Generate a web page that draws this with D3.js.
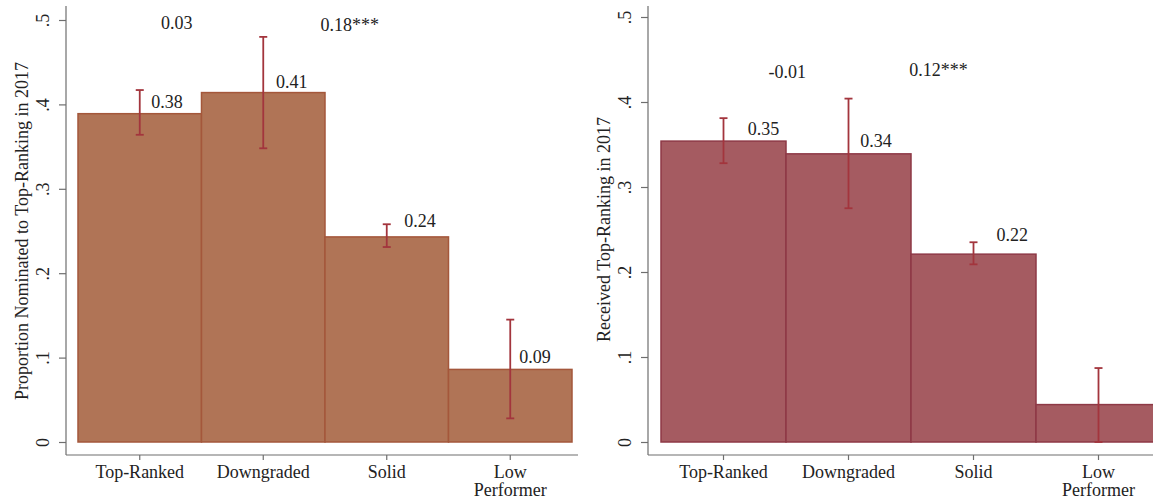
<!DOCTYPE html>
<html lang="en">
<head>
    <meta charset="UTF-8">
    <title>Top-Ranking in 2017</title>
    <script src="https://d3js.org/d3.v7.min.js"></script>
    <style>
        body { margin: 0; background: #fff; }
        .axis-line { stroke: #6e6e6e; stroke-width: 1.2; }
    </style>
</head>
<body>
    <svg width="1153" height="504"></svg>

    <script>
        // Categories along the x axis
        const categories = ["Top-Ranked", "Downgraded", "Solid", "Low Performer"];
        const yTicks = [0, 0.1, 0.2, 0.3, 0.4, 0.5];

        // Left panel: proportion nominated (mean and 95% CI)
        const nominatedMean = [0.389, 0.414, 0.243, 0.086];
        const nominatedLow = [0.364, 0.348, 0.231, 0.028];
        const nominatedHigh = [0.417, 0.480, 0.258, 0.145];
        const nominatedLabels = ["0.38", "0.41", "0.24", "0.09"];
        const nominatedDiffs = ["0.03", "0.18***"];

        // Right panel: received top-ranking
        const receivedMean = [0.354, 0.339, 0.221, 0.044];
        const receivedLow = [0.328, 0.275, 0.209, 0.0];
        const receivedHigh = [0.381, 0.404, 0.235, 0.087];
        const receivedLabels = ["0.35", "0.34", "0.22"];
        const receivedDiffs = ["-0.01", "0.12***"];

        const svg = d3.select("svg");
        const serif = "'Liberation Serif', 'DejaVu Serif', serif";

        // text placements in data units (x: category position 0..4, y: value)
        const panels = [
            {
                title: "Proportion Nominated to Top-Ranking in 2017",
                mean: nominatedMean, low: nominatedLow, high: nominatedHigh,
                labels: nominatedLabels, diffs: nominatedDiffs,
                labelAt: [[0.72, 0.403], [1.73, 0.427], [2.77, 0.262], [3.70, 0.101]],
                diffAt: [[0.80, 0.497], [2.20, 0.494]],
                axisX: 66, barRange: [78, 572], xEnd: 578, yRange: [442, 20],
                fill: "#b07456", stroke: "#a4573b"
            },
            {
                title: "Received Top-Ranking in 2017",
                mean: receivedMean, low: receivedLow, high: receivedHigh,
                labels: receivedLabels, diffs: receivedDiffs,
                labelAt: [[0.82, 0.369], [1.72, 0.354], [2.81, 0.2435]],
                diffAt: [[1.01, 0.436], [2.22, 0.438]],
                axisX: 648, barRange: [661, 1161], xEnd: 1153, yRange: [442, 17],
                fill: "#a55b61", stroke: "#8e3946"
            }
        ];

        const baseY = 455;
        const errColor = "#a3353d";

        panels.forEach(p => {
            const g = svg.append("g");

            const x = d3.scaleBand()
                .domain(categories)
                .range(p.barRange)
                .padding(0);
            // continuous position for text placements
            const xPos = d3.scaleLinear().domain([0, categories.length]).range(p.barRange);
            const y = d3.scaleLinear().domain([0, 0.5]).range(p.yRange);

            // Axis lines
            g.append("line").attr("class", "axis-line")
                .attr("x1", p.axisX).attr("x2", p.axisX)
                .attr("y1", 6).attr("y2", baseY);
            g.append("line").attr("class", "axis-line")
                .attr("x1", p.axisX).attr("x2", p.xEnd)
                .attr("y1", baseY).attr("y2", baseY);

            // Y axis with rotated labels
            const yAxis = g.append("g")
                .attr("transform", `translate(${p.axisX},0)`)
                .call(d3.axisLeft(y).tickValues(yTicks).tickSize(7)
                    .tickFormat(d => d === 0 ? "0" : d3.format(".1f")(d).replace("0.", ".")));
            yAxis.select(".domain").remove();
            yAxis.selectAll("line").attr("stroke", "#6e6e6e").attr("stroke-width", 1.2);
            yAxis.selectAll("text")
                .attr("transform", "rotate(-90)")
                .attr("x", 0).attr("y", -17).attr("dy", 0)
                .attr("text-anchor", "middle");

            // X axis ticks and labels
            const xAxis = g.append("g")
                .attr("transform", `translate(0,${baseY})`)
                .call(d3.axisBottom(x).tickSize(5).tickFormat(""));
            xAxis.select(".domain").remove();
            xAxis.selectAll("line").attr("stroke", "#6e6e6e").attr("stroke-width", 1.2);

            g.selectAll(".xlab")
                .data(categories)
                .enter().append("text")
                .attr("text-anchor", "middle")
                .attr("x", d => x(d) + x.bandwidth() / 2)
                .attr("y", 478)
                .each(function (d) {
                    const words = d === "Low Performer" ? ["Low", "Performer"] : [d];
                    d3.select(this).selectAll("tspan")
                        .data(words)
                        .enter().append("tspan")
                        .attr("x", x(d) + x.bandwidth() / 2)
                        .attr("dy", (w, i) => i === 0 ? 0 : 18)
                        .text(w => w);
                });

            // Axis title
            g.append("text")
                .attr("transform", `translate(${p.axisX - 38},${(p.yRange[0] + p.yRange[1]) / 2}) rotate(-90)`)
                .attr("text-anchor", "middle")
                .text(p.title);

            // Bars
            g.selectAll(".bar")
                .data(categories)
                .enter().append("rect")
                .attr("x", d => x(d))
                .attr("y", (d, i) => y(p.mean[i]))
                .attr("width", x.bandwidth())
                .attr("height", (d, i) => y(0) - y(p.mean[i]))
                .attr("fill", p.fill)
                .attr("stroke", p.stroke)
                .attr("stroke-width", 1.5);

            // Error bars
            const eb = g.selectAll(".err")
                .data(categories)
                .enter().append("g")
                .attr("transform", d => `translate(${x(d) + x.bandwidth() / 2},0)`);
            eb.append("line")
                .attr("y1", (d, i) => y(p.low[i]))
                .attr("y2", (d, i) => y(p.high[i]))
                .attr("stroke", errColor).attr("stroke-width", 1.8);
            [p.low, p.high].forEach(arr => {
                eb.append("line")
                    .attr("x1", -4).attr("x2", 4)
                    .attr("y1", (d, i) => y(arr[i]))
                    .attr("y2", (d, i) => y(arr[i]))
                    .attr("stroke", errColor).attr("stroke-width", 1.8);
            });

            // Value labels
            g.selectAll(".val")
                .data(p.labels)
                .enter().append("text")
                .attr("text-anchor", "middle")
                .attr("x", (d, i) => xPos(p.labelAt[i][0]))
                .attr("y", (d, i) => y(p.labelAt[i][1]))
                .attr("dy", "0.35em")
                .text(d => d);

            // Difference annotations
            g.selectAll(".diff")
                .data(p.diffs)
                .enter().append("text")
                .attr("text-anchor", "middle")
                .attr("x", (d, i) => xPos(p.diffAt[i][0]))
                .attr("y", (d, i) => y(p.diffAt[i][1]))
                .attr("dy", "0.35em")
                .text(d => d);
        });

        // one font for every text on the page
        svg.selectAll("text")
            .style("font-family", serif)
            .style("font-size", "18px")
            .style("fill", "#222");
    </script>
</body>
</html>
